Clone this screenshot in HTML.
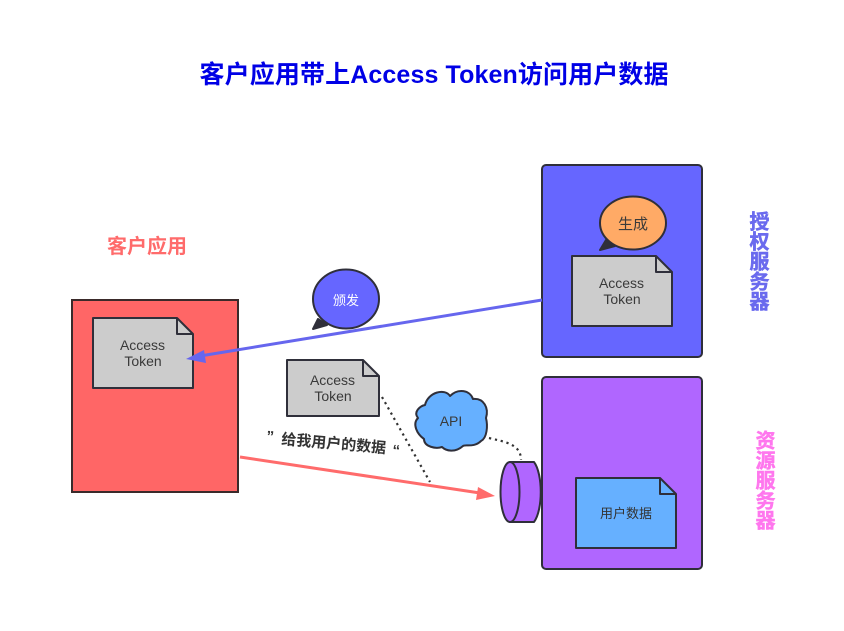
<!DOCTYPE html>
<html><head><meta charset="utf-8">
<style>
html,body{margin:0;padding:0;background:#fff;width:844px;height:631px;overflow:hidden}
svg{display:block}
text{font-family:"Liberation Sans","Noto Sans CJK SC",sans-serif}
.n{font-size:14px;fill:#3a3a3a;text-anchor:middle}
.s{stroke:#2f2f3a;stroke-width:2;stroke-linejoin:round}
.v{font-size:20px;font-weight:700;writing-mode:vertical-rl;text-orientation:upright;stroke-width:.5px}
</style></head><body>
<svg width="844" height="631" viewBox="0 0 844 631" xmlns="http://www.w3.org/2000/svg">
<text x="434" y="83" font-size="25" font-weight="700" fill="#0000e6" text-anchor="middle" textLength="469" lengthAdjust="spacing">客户应用带上Access Token访问用户数据</text>
<text x="147" y="253" font-size="20" font-weight="700" fill="#ff6b6b" text-anchor="middle">客户应用</text>

<!-- auth server -->
<rect x="542" y="165" width="160" height="192" rx="4" fill="#6666ff" class="s"/>
<path d="M600 250 L606 240 L615 246 Z" fill="#2f2f3a" class="s"/>
<ellipse cx="633" cy="223" rx="33" ry="26.500" fill="#ffaa66" class="s"/>
<text x="633" y="229" font-size="15" fill="#3a3a3a" text-anchor="middle">生成</text>
<path d="M572 256 H656 L672 272 V326 H572 Z" fill="#cccccc" class="s"/>
<path d="M656 256 V272 H672" fill="none" class="s"/>
<text x="621.500" y="288" class="n">Access</text>
<text x="622" y="304" class="n">Token</text>
<text x="757" y="211" class="v" fill="#6a6aee" stroke="#6a6aee">授权服务器</text>

<!-- resource server -->
<rect x="542" y="377" width="160" height="192" rx="4" fill="#b066ff" class="s"/>
<path d="M576 478 H660 L676 494 V548 H576 Z" fill="#66b0ff" class="s"/>
<path d="M660 478 V494 H676" fill="none" class="s"/>
<text x="626" y="518" font-size="13" fill="#333" text-anchor="middle">用户数据</text>
<text x="763" y="430" class="v" fill="#ff77ee" stroke="#ff77ee">资源服务器</text>

<!-- client -->
<rect x="72" y="300" width="166" height="192" fill="#ff6666" stroke="#3a2a2a" stroke-width="2"/>
<path d="M93 318 H177 L193 334 V388 H93 Z" fill="#cccccc" class="s"/>
<path d="M177 318 V334 H193" fill="none" class="s"/>
<text x="142.500" y="350" class="n">Access</text>
<text x="143" y="366" class="n">Token</text>

<!-- issue bubble -->
<path d="M313 329 L318 319 L327 325 Z" fill="#2f2f3a" class="s"/>
<ellipse cx="346" cy="299" rx="33" ry="29.500" fill="#6666ff" class="s"/>
<text x="346" y="305" font-size="13" fill="#fff" text-anchor="middle">颁发</text>

<!-- blue arrow -->
<line x1="542" y1="300" x2="200" y2="356" stroke="#6666ee" stroke-width="3"/>
<path d="M186 359 L204 350 L206 363 Z" fill="#6666ee"/>

<!-- middle note -->
<path d="M287 360 H363 L379 376 V416 H287 Z" fill="#cccccc" class="s"/>
<path d="M363 360 V376 H379" fill="none" class="s"/>
<text x="332.500" y="385" class="n">Access</text>
<text x="333" y="401" class="n">Token</text>

<text x="266" y="441" font-size="15" font-weight="700" fill="#333" transform="rotate(5 266 441)">”</text>
<text x="281" y="444" font-size="15" font-weight="700" fill="#333" transform="rotate(5 281 444)">给我用户的数据</text>
<text x="392" y="455" font-size="15" font-weight="700" fill="#333" transform="rotate(5 392 455)">“</text>

<!-- dotted -->
<path d="M382 397 L430 482" fill="none" stroke="#333" stroke-width="2.200" stroke-dasharray="2.200 3.800"/>
<path d="M489 438 C505 442 521 444 521 460" fill="none" stroke="#333" stroke-width="2.200" stroke-dasharray="2.200 3.800"/>

<!-- red arrow -->
<line x1="240" y1="457" x2="480" y2="493" stroke="#ff6b6b" stroke-width="3"/>
<path d="M495 496 L476 500 L478 487 Z" fill="#ff6b6b"/>

<!-- cloud -->
<path d="M425 405 C428 392 445 388 450 396 C458 388 470 390 473 399 C484 398 489 408 486 418 C488 426 487 438 481 441 C474 448 465 444 463 446 C455 453 446 451 442 447 C436 449 424 447 424 439 C417 434 412 424 418 418 C413 412 420 406 425 405 Z" fill="#66b0ff" class="s"/>
<text x="451" y="426" font-size="14" fill="#3a3a3a" text-anchor="middle">API</text>

<!-- cylinder -->
<path d="M510 462 H534 C543 474 543 510 534 522 H510 Z" fill="#b066ff" class="s"/>
<ellipse cx="510" cy="492" rx="9.500" ry="30" fill="#b066ff" class="s"/>
</svg>
</body></html>
